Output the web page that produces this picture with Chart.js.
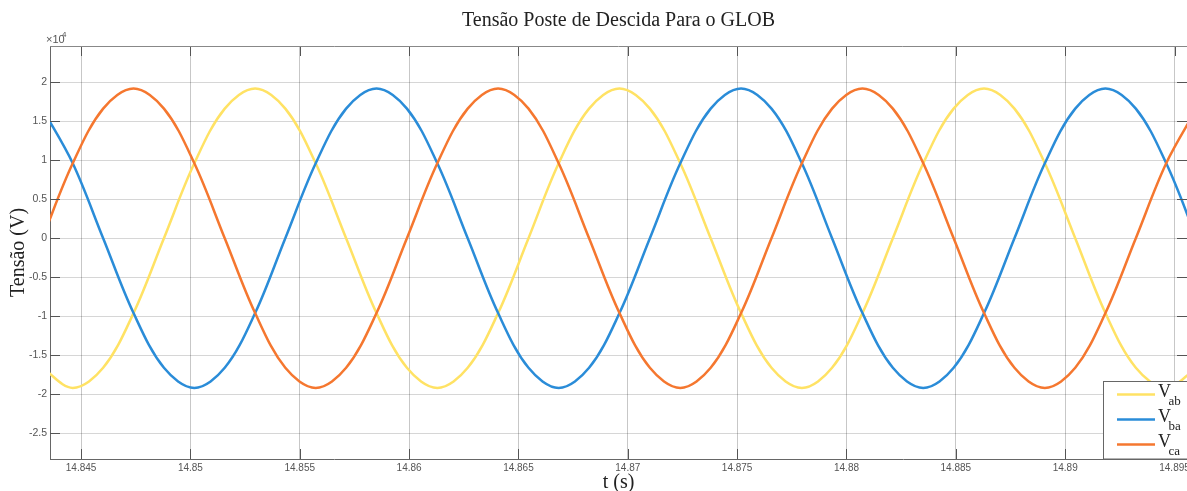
<!DOCTYPE html>
<html>
<head>
<meta charset="utf-8">
<script src="https://cdn.jsdelivr.net/npm/chart.js@4"></script>
<style>
  body { margin: 0; background: #fff; }
  canvas { display: block; }
</style>
</head>
<body>
<canvas id="tensao" width="1187" height="491"></canvas>
<script>
// time samples (s), every 1/12 of a cycle
const timeValues = [14.84323, 14.84462, 14.84601, 14.84740, 14.84879, 14.85018, 14.85157, 14.85296,
  14.85434, 14.85573, 14.85712, 14.85851, 14.85990, 14.86129, 14.86268, 14.86407, 14.86546, 14.86684,
  14.86823, 14.86962, 14.87101, 14.87240, 14.87379, 14.87518, 14.87657, 14.87796, 14.87934, 14.88073,
  14.88212, 14.88351, 14.88490, 14.88629, 14.88768, 14.88907, 14.89046, 14.89184, 14.89323, 14.89462,
  14.89601];

const vab = [-16600, -19170, -16600, -9590, 0, 9590, 16600,
  19170, 16600, 9590, 0, -9590, -16600, -19170, -16600, -9590, 0, 9590, 16600,
  19170, 16600, 9590, 0, -9590, -16600, -19170, -16600, -9590, 0, 9590, 16600,
  19170, 16600, 9590, 0, -9590, -16600, -19170, -16600];

const vba = [16600, 9590, 0, -9590, -16600, -19170, -16600, -9590, 0, 9590, 16600,
  19170, 16600, 9590, 0, -9590, -16600, -19170, -16600, -9590, 0, 9590, 16600,
  19170, 16600, 9590, 0, -9590, -16600, -19170, -16600, -9590, 0, 9590, 16600,
  19170, 16600, 9590, 0];

const vca = [0, 9590, 16600,
  19170, 16600, 9590, 0, -9590, -16600, -19170, -16600, -9590, 0, 9590, 16600,
  19170, 16600, 9590, 0, -9590, -16600, -19170, -16600, -9590, 0, 9590, 16600,
  19170, 16600, 9590, 0, -9590, -16600, -19170, -16600, -9590, 0, 9590, 16600];

const seriesLabels = ['Vab', 'Vba', 'Vca'];
const seriesColors = ['#ffe264', '#2a8cd8', '#f5772f'];

const xTickValues = [14.845, 14.85, 14.855, 14.86, 14.865, 14.87, 14.875, 14.88, 14.885, 14.89, 14.895];
const xTickLabels = ['14.845', '14.85', '14.855', '14.86', '14.865', '14.87', '14.875', '14.88', '14.885', '14.89', '14.895'];
const yTickValues = [-25000, -20000, -15000, -10000, -5000, 0, 5000, 10000, 15000, 20000];
const yTickLabels = ['-2.5', '-2', '-1.5', '-1', '-0.5', '0', '0.5', '1', '1.5', '2'];

const toPoints = (vals) => vals.map((v, i) => ({x: timeValues[i], y: v}));

// inner tick marks, top border, x10^4 note and the boxed legend
const matlabAxes = {
  id: 'matlabAxes',
  afterDatasetsDraw(chart) {
    const {ctx, chartArea: a, scales} = chart;
    ctx.save();
    ctx.strokeStyle = '#555';
    ctx.lineWidth = 1;
    ctx.beginPath();
    xTickValues.forEach(v => {
      const px = Math.round(scales.x.getPixelForValue(v)) + 0.5;
      ctx.moveTo(px, a.top); ctx.lineTo(px, a.top + 10);
      ctx.moveTo(px, a.bottom); ctx.lineTo(px, a.bottom - 10);
    });
    yTickValues.forEach(v => {
      const py = Math.round(scales.y.getPixelForValue(v)) + 0.5;
      ctx.moveTo(a.left, py); ctx.lineTo(a.left + 10, py);
      ctx.moveTo(a.right, py); ctx.lineTo(a.right - 10, py);
    });
    ctx.stroke();

    ctx.strokeStyle = '#888';
    ctx.beginPath();
    ctx.moveTo(a.left, a.top + 0.5);
    ctx.lineTo(a.right, a.top + 0.5);
    ctx.stroke();

    ctx.fillStyle = '#555';
    ctx.textBaseline = 'alphabetic';
    ctx.textAlign = 'left';
    ctx.font = '11px "Liberation Sans"';
    ctx.fillText('\u00d710', a.left - 4, a.top - 3);
    ctx.font = '8px "Liberation Sans"';
    ctx.fillText('4', a.left + 12, a.top - 9);

    // legend
    const bx = 1103.5, by = 381.5;
    ctx.fillStyle = '#fff';
    ctx.fillRect(bx, by, 100, a.bottom - by);
    ctx.strokeStyle = '#666';
    ctx.strokeRect(bx, by, 100, a.bottom - by);
    chart.data.datasets.forEach((ds, i) => {
      const y = 394.5 + i * 25;
      ctx.strokeStyle = ds.borderColor;
      ctx.lineWidth = 2.5;
      ctx.beginPath();
      ctx.moveTo(1117, y);
      ctx.lineTo(1155, y);
      ctx.stroke();
      ctx.fillStyle = '#222';
      ctx.font = '18px "Liberation Serif"';
      ctx.fillText(ds.label.charAt(0), 1158, y + 2.5);
      ctx.font = '13px "Liberation Serif"';
      ctx.fillText(ds.label.slice(1), 1168.5, y + 10);
    });
    ctx.restore();
  }
};

new Chart(document.getElementById('tensao'), {
  type: 'line',
  data: {
    datasets: [
      {label: seriesLabels[0], data: toPoints(vab), borderColor: seriesColors[0], order: 3},
      {label: seriesLabels[1], data: toPoints(vba), borderColor: seriesColors[1], order: 2},
      {label: seriesLabels[2], data: toPoints(vca), borderColor: seriesColors[2], order: 1}
    ]
  },
  options: {
    responsive: false,
    animation: false,
    layout: {padding: 0},
    elements: {
      point: {radius: 0},
      line: {borderWidth: 2.5, tension: 0.35}
    },
    plugins: {
      legend: {display: false},
      tooltip: {enabled: false},
      title: {
        display: true,
        fullSize: false,
        text: 'Tensão Poste de Descida Para o GLOB',
        color: '#222',
        font: {family: 'Liberation Serif', size: 20, weight: 'normal'},
        padding: {top: 9, bottom: 13}
      }
    },
    scales: {
      x: {
        type: 'linear',
        min: 14.84358,
        max: 14.89557,
        afterBuildTicks: (s) => { s.ticks = xTickValues.map(v => ({value: v})); },
        afterFit: (s) => { s.height = 32; s.paddingLeft = 0; s.paddingRight = 0; },
        ticks: {
          autoSkip: false,
          maxRotation: 0,
          padding: 3,
          color: '#555',
          font: {family: 'Liberation Sans', size: 10},
          callback: (v, i) => xTickLabels[i]
        },
        grid: {color: 'rgba(0,0,0,0.22)', drawTicks: false},
        border: {color: '#666'},
        title: {
          display: true,
          text: 't (s)',
          color: '#222',
          font: {family: 'Liberation Serif', size: 20},
          padding: {top: 0, bottom: -3.5}
        }
      },
      y: {
        min: -28280,
        max: 24620,
        afterBuildTicks: (s) => { s.ticks = yTickValues.map(v => ({value: v})); },
        afterFit: (s) => { s.width = 50; s.paddingTop = 0; s.paddingBottom = 0; },
        ticks: {
          padding: 3,
          color: '#555',
          font: {family: 'Liberation Sans', size: 10.5},
          callback: (v, i) => yTickLabels[i]
        },
        grid: {color: 'rgba(0,0,0,0.16)', drawTicks: false},
        border: {color: '#666'},
        title: {
          display: true,
          text: 'Tensão (V)',
          color: '#222',
          font: {family: 'Liberation Serif', size: 20},
          padding: {top: 7, bottom: 0}
        }
      }
    }
  },
  plugins: [matlabAxes]
});
</script>
</body>
</html>
